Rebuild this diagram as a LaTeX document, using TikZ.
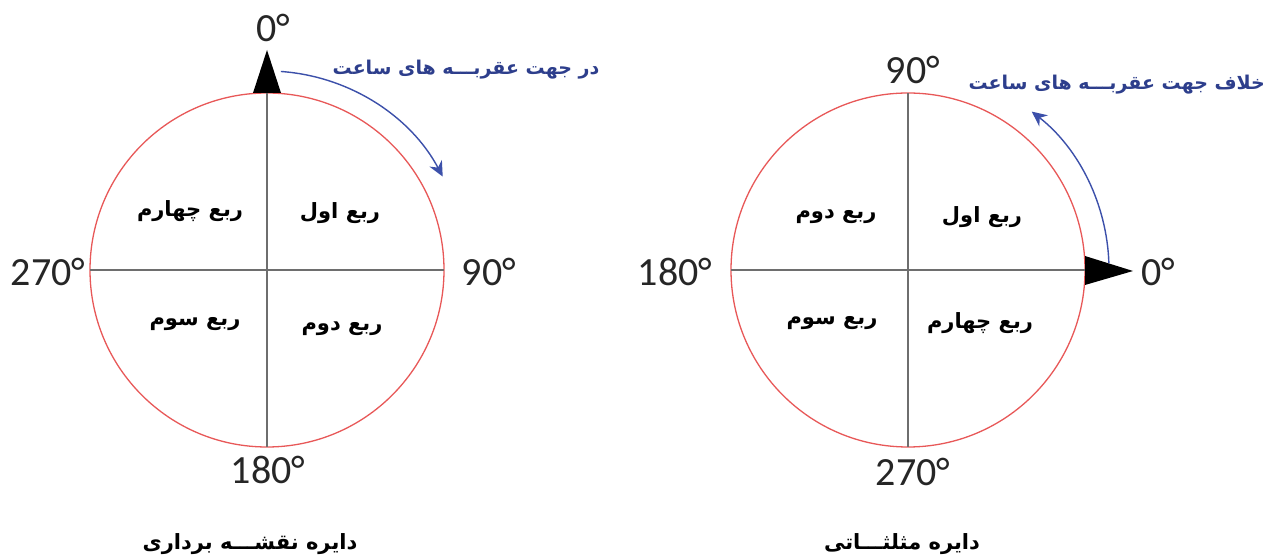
\documentclass[tikz,border=0pt]{standalone}
\usepackage{fontspec}
\usetikzlibrary{arrows.meta,calc}
\TeXXeTstate=1
\setmainfont{Carlito}
\newfontfamily\arabicfont[Script=Arabic]{DejaVu Sans}
\definecolor{circred}{RGB}{232,88,88}
\definecolor{axisgray}{RGB}{110,110,110}
\definecolor{arrblue}{RGB}{60,80,170}
\definecolor{txtblue}{RGB}{45,62,140}
\tikzset{
  ring/.style={draw=circred, line width=1.3pt},
  axis/.style={draw=axisgray, line width=2.6pt},
  tri/.style={fill=black},
  deg/.style={font=\fontsize{40}{42}\selectfont, text=black!85, inner sep=0pt},
  quad/.style={font=\arabicfont\bfseries\fontsize{21}{24}\selectfont, inner sep=0pt},
  dirtxt/.style={font=\arabicfont\bfseries\fontsize{19}{22}\selectfont, text=txtblue, inner sep=0pt},
  capt/.style={font=\arabicfont\bfseries\fontsize{21}{24}\selectfont, inner sep=0pt},
  dirarrow/.style={draw=arrblue, line width=1.4pt, -{Stealth[length=15pt,width=14pt]}}
}
\begin{document}
\begin{tikzpicture}[x=1pt,y=1pt]
\useasboundingbox (0,0) rectangle (1268,556);
\fill[white] (0,0) rectangle (1268,556);
% ---------- left circle (surveying) ----------
\coordinate (L) at (267,286);
\draw[ring] (L) circle[radius=177];
\coordinate (Ltop) at (267,463);
\coordinate (Lbot) at (267,109);
\coordinate (Lleft) at (90,286);
\coordinate (Lright) at (444,286);
\draw[axis] (Lbot) -- (Ltop);
\draw[axis] (Lleft) -- (Lright);
\fill[tri] (253,463) -- (281,463) -- (267,506) -- cycle;
\node[deg] (L0) at (273,528) {0°};
\node[deg] (L90) at (489,284) {90°};
\node[deg] (L270) at (48,284) {270°};
\node[deg] (L180) at (268,86) {180°};
\coordinate (La) at ($(L)+(86:199)$);
\draw[dirarrow] (La) arc[start angle=86, end angle=28, radius=199];
\node[dirtxt] (Ldir) at (466,486) {\beginR در جهت عقربـــه های ساعت\endR};
\node[quad] (Lq4) at (190,345) {\beginR ربع چهارم\endR};
\node[quad] (Lq1) at (340,343) {\beginR ربع اول\endR};
\node[quad] (Lq3) at (195,232) {\beginR ربع سوم\endR};
\node[quad] (Lq2) at (342,227) {\beginR ربع دوم\endR};
\node[capt] (Lcap) at (250,12) {\beginR دایره نقشـــه برداری\endR};
% ---------- right circle (trigonometric) ----------
\coordinate (R) at (908,286);
\draw[ring] (R) circle[radius=177];
\coordinate (Rtop) at (908,463);
\coordinate (Rbot) at (908,109);
\coordinate (Rleft) at (731,286);
\coordinate (Rright) at (1085,286);
\draw[axis] (Rbot) -- (Rtop);
\draw[axis] (Rleft) -- (Rright);
\fill[tri] (1085,300) -- (1085,271) -- (1133,285) -- cycle;
\node[deg] (R0) at (1158,284) {0°};
\node[deg] (R90) at (913,486) {90°};
\node[deg] (R180) at (675,284) {180°};
\node[deg] (R270) at (913,84) {270°};
\coordinate (Ra) at ($(R)+(2:201)$);
\draw[dirarrow] (Ra) arc[start angle=2, end angle=52, radius=201];
\node[dirtxt, anchor=east] (Rdir) at (1265,471) {\beginR خلاف جهت عقربـــه های ساعت\endR};
\node[quad] (Rq2) at (836,339) {\beginR ربع دوم\endR};
\node[quad] (Rq1) at (982,339) {\beginR ربع اول\endR};
\node[quad] (Rq3) at (832,233) {\beginR ربع سوم\endR};
\node[quad] (Rq4) at (980,233) {\beginR ربع چهارم\endR};
\node[capt] (Rcap) at (902,12) {\beginR دایره مثلثـــاتی\endR};
\end{tikzpicture}
\end{document}
